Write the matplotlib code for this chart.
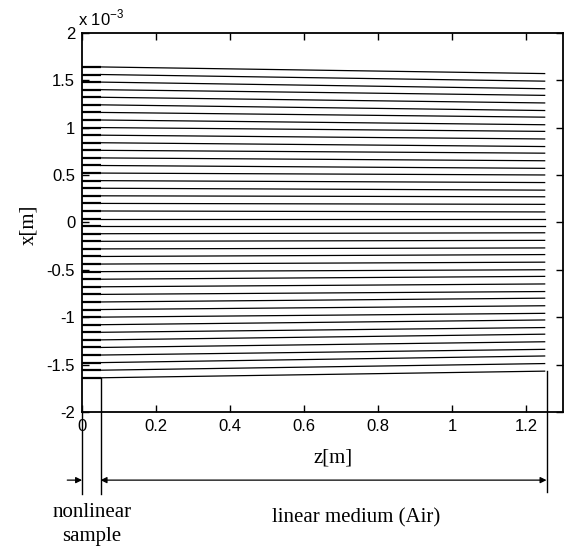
import matplotlib
matplotlib.use("Agg")
import matplotlib.pyplot as plt

# ray heights in units of 1e-3 m, at the sample entrance (z=0) and at the end (z=1.25 m)
x_start = [1.64, 1.56, 1.48, 1.40, 1.32, 1.24, 1.16, 1.08, 1.00, 0.92, 0.84,
           0.76, 0.68, 0.60, 0.52, 0.44, 0.36, 0.28, 0.20, 0.12, 0.04,
           -0.04, -0.12, -0.20, -0.28, -0.36, -0.44, -0.52, -0.60, -0.68, -0.76,
           -0.84, -0.92, -1.00, -1.08, -1.16, -1.24, -1.32, -1.40, -1.48, -1.56, -1.64]
x_end = [1.57, 1.49, 1.41, 1.34, 1.26, 1.18, 1.11, 1.03, 0.96, 0.88, 0.80,
         0.73, 0.65, 0.57, 0.50, 0.42, 0.34, 0.27, 0.19, 0.11, 0.04,
         -0.04, -0.11, -0.19, -0.27, -0.34, -0.42, -0.50, -0.57, -0.65, -0.73,
         -0.80, -0.88, -0.96, -1.03, -1.11, -1.18, -1.26, -1.34, -1.41, -1.49, -1.57]
z_sample = 0.05     # thickness of nonlinear sample [m]
z_end = 1.25        # end of propagation [m]
z_marker = 1.255

x_ticks = [0, 0.2, 0.4, 0.6, 0.8, 1, 1.2]
y_ticks = [-2, -1.5, -1, -0.5, 0, 0.5, 1, 1.5, 2]

plt.rcParams['mathtext.fontset'] = 'custom'
plt.rcParams['mathtext.rm'] = 'Liberation Sans'

SANS = 'Liberation Sans'
SERIF = 'Liberation Serif'

fig = plt.figure(figsize=(5.66, 5.47), dpi=100)
ax = fig.add_axes([0.145, 0.247, 0.850, 0.693])

for xs, xe in zip(x_start, x_end):
    # inside the sample the rays go straight, then they bend toward the axis
    ax.plot([0, z_sample], [xs, xs], color='black', lw=1.6, solid_capstyle='butt')
    ax.plot([z_sample, z_end], [xs, xe], color='black', lw=0.9)

ax.set_xlim(0, 1.3)
ax.set_ylim(-2, 2)
ax.set_xticks(x_ticks)
ax.set_xticklabels([f'{t:g}' for t in x_ticks], fontfamily=SANS, fontsize=12)
ax.set_yticks(y_ticks)
ax.set_yticklabels([f'{t:g}' for t in y_ticks], fontfamily=SANS, fontsize=12)
ax.tick_params(direction='in', length=5, width=1, top=True, right=True, pad=5)
for sp in ax.spines.values():
    sp.set_linewidth(1.3)

ax.text(-0.008, 1.012, r'x 10$^{-3}$', transform=ax.transAxes, fontfamily=SANS,
        fontsize=12, ha='left', va='bottom')
ax.text(-0.11, 0.493, 'x[m]', transform=ax.transAxes, rotation=90,
        fontfamily=SERIF, fontsize=15, ha='center', va='center')
ax.text(0.678, -2.49, 'z[m]', fontfamily=SERIF, fontsize=15, ha='center', va='center')

# region markers under the axis
y_low = -2.87
y_arr = -2.72
ax.plot([0, 0], [-2, y_low], color='black', lw=1.0, clip_on=False)
ax.plot([z_sample, z_sample], [x_start[-1], y_low], color='black', lw=1.0, clip_on=False)
ax.plot([z_marker, z_marker], [x_end[-1], -2.85], color='black', lw=1.0, clip_on=False)

ax.annotate('', xy=(0, y_arr), xytext=(-0.04, y_arr), annotation_clip=False,
            arrowprops=dict(arrowstyle='-|>', color='black', lw=0.9,
                            mutation_scale=9, shrinkA=0, shrinkB=0))
ax.annotate('', xy=(z_marker, y_arr), xytext=(z_sample, y_arr), annotation_clip=False,
            arrowprops=dict(arrowstyle='<|-|>', color='black', lw=0.9,
                            mutation_scale=9, shrinkA=0, shrinkB=0))

ax.text(0.027, -3.19, 'nonlinear\nsample', fontfamily=SERIF, fontsize=15,
        ha='center', va='center', linespacing=1.35)
ax.text(0.741, -3.12, 'linear medium (Air)', fontfamily=SERIF, fontsize=15,
        ha='center', va='center')

fig.savefig('out.png', dpi=100)
